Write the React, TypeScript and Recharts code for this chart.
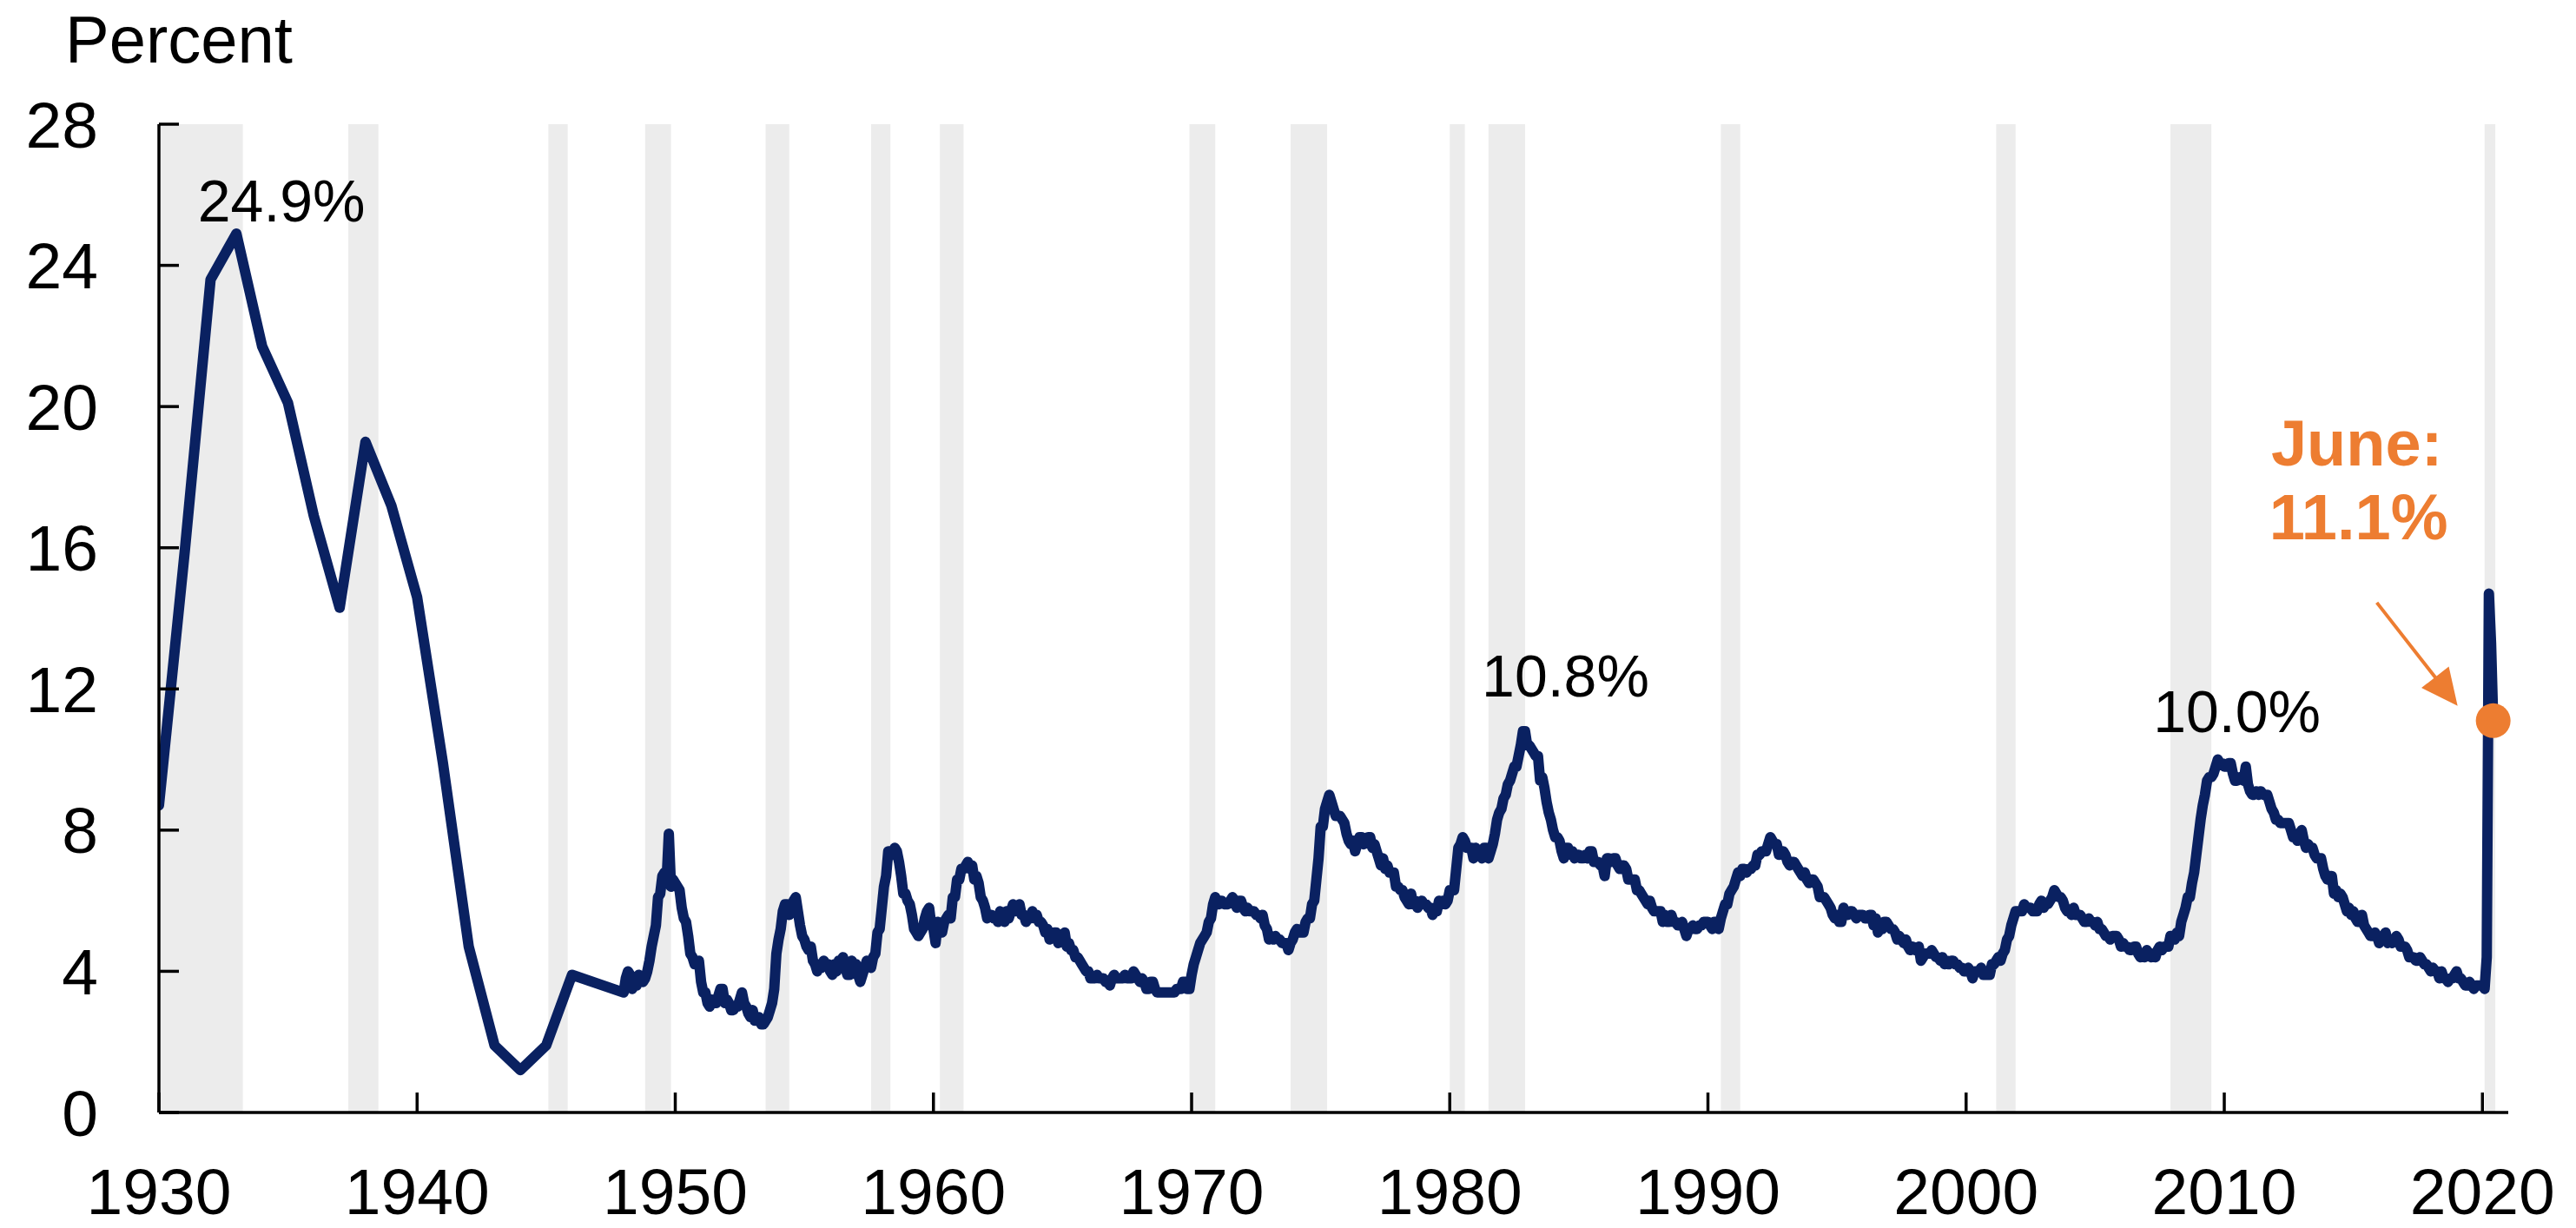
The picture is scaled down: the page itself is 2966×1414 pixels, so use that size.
import React from 'react';
import { ComposedChart, Line, XAxis, YAxis, ReferenceArea, ReferenceDot } from 'recharts';

// Annual unemployment rate, 1930-1946 (plotted at the start of each year)
const annualYears = [1930, 1931, 1932, 1933, 1934, 1935, 1936, 1937, 1938, 1939, 1940, 1941, 1942, 1943, 1944, 1945, 1946];
const annualRate = [8.7, 15.9, 23.6, 24.9, 21.7, 20.1, 16.9, 14.3, 19.0, 17.2, 14.6, 9.9, 4.7, 1.9, 1.2, 1.9, 3.9];

// Monthly unemployment rate, Jan 1948 - Jun 2020 (one row per year)
const monthlyStartYear = 1948;
const monthlyRate: number[][] = [
  [3.4, 3.8, 4.0, 3.9, 3.5, 3.6, 3.6, 3.9, 3.8, 3.7, 3.8, 4.0],
  [4.3, 4.7, 5.0, 5.3, 6.1, 6.2, 6.7, 6.8, 6.6, 7.9, 6.4, 6.6],
  [6.5, 6.4, 6.3, 5.8, 5.5, 5.4, 5.0, 4.5, 4.4, 4.2, 4.2, 4.3],
  [3.7, 3.4, 3.4, 3.1, 3.0, 3.2, 3.1, 3.1, 3.3, 3.5, 3.5, 3.1],
  [3.2, 3.1, 2.9, 2.9, 3.0, 3.0, 3.2, 3.4, 3.1, 3.0, 2.8, 2.7],
  [2.9, 2.6, 2.6, 2.7, 2.5, 2.5, 2.6, 2.7, 2.9, 3.1, 3.5, 4.5],
  [4.9, 5.2, 5.7, 5.9, 5.9, 5.6, 5.8, 6.0, 6.1, 5.7, 5.3, 5.0],
  [4.9, 4.7, 4.6, 4.7, 4.3, 4.2, 4.0, 4.2, 4.1, 4.3, 4.2, 4.2],
  [4.0, 3.9, 4.2, 4.0, 4.3, 4.3, 4.4, 4.1, 3.9, 3.9, 4.3, 4.2],
  [4.2, 3.9, 3.7, 3.9, 4.1, 4.3, 4.2, 4.1, 4.4, 4.5, 5.1, 5.2],
  [5.8, 6.4, 6.7, 7.4, 7.4, 7.3, 7.5, 7.4, 7.1, 6.7, 6.2, 6.2],
  [6.0, 5.9, 5.6, 5.2, 5.1, 5.0, 5.1, 5.2, 5.5, 5.7, 5.8, 5.3],
  [5.2, 4.8, 5.4, 5.2, 5.1, 5.4, 5.5, 5.6, 5.5, 6.1, 6.1, 6.6],
  [6.6, 6.9, 6.9, 7.0, 7.1, 6.9, 7.0, 6.6, 6.7, 6.5, 6.1, 6.0],
  [5.8, 5.5, 5.6, 5.6, 5.5, 5.5, 5.4, 5.7, 5.6, 5.4, 5.7, 5.5],
  [5.7, 5.9, 5.7, 5.7, 5.9, 5.6, 5.6, 5.4, 5.5, 5.5, 5.7, 5.5],
  [5.6, 5.4, 5.4, 5.3, 5.1, 5.2, 4.9, 5.0, 5.1, 5.1, 4.8, 5.0],
  [4.9, 5.1, 4.7, 4.8, 4.6, 4.6, 4.4, 4.4, 4.3, 4.2, 4.1, 4.0],
  [4.0, 3.8, 3.8, 3.8, 3.9, 3.8, 3.8, 3.8, 3.7, 3.7, 3.6, 3.8],
  [3.9, 3.8, 3.8, 3.8, 3.8, 3.9, 3.8, 3.8, 3.8, 4.0, 3.9, 3.8],
  [3.7, 3.8, 3.7, 3.5, 3.5, 3.7, 3.7, 3.5, 3.4, 3.4, 3.4, 3.4],
  [3.4, 3.4, 3.4, 3.4, 3.4, 3.5, 3.5, 3.5, 3.7, 3.7, 3.5, 3.5],
  [3.9, 4.2, 4.4, 4.6, 4.8, 4.9, 5.0, 5.1, 5.4, 5.5, 5.9, 6.1],
  [5.9, 5.9, 6.0, 5.9, 5.9, 5.9, 6.0, 6.1, 6.0, 5.8, 6.0, 6.0],
  [5.8, 5.7, 5.8, 5.7, 5.7, 5.7, 5.6, 5.6, 5.5, 5.6, 5.3, 5.2],
  [4.9, 5.0, 4.9, 5.0, 4.9, 4.9, 4.8, 4.8, 4.8, 4.6, 4.8, 4.9],
  [5.1, 5.2, 5.1, 5.1, 5.1, 5.4, 5.5, 5.5, 5.9, 6.0, 6.6, 7.2],
  [8.1, 8.1, 8.6, 8.8, 9.0, 8.8, 8.6, 8.4, 8.4, 8.4, 8.3, 8.2],
  [7.9, 7.7, 7.6, 7.7, 7.4, 7.6, 7.8, 7.8, 7.6, 7.7, 7.8, 7.8],
  [7.5, 7.6, 7.4, 7.2, 7.0, 7.2, 6.9, 7.0, 6.8, 6.8, 6.8, 6.4],
  [6.4, 6.3, 6.3, 6.1, 6.0, 5.9, 6.2, 5.9, 6.0, 5.8, 5.9, 6.0],
  [5.9, 5.9, 5.8, 5.8, 5.6, 5.7, 5.7, 6.0, 5.9, 6.0, 5.9, 6.0],
  [6.3, 6.3, 6.3, 6.9, 7.5, 7.6, 7.8, 7.7, 7.5, 7.5, 7.5, 7.2],
  [7.5, 7.4, 7.4, 7.2, 7.5, 7.5, 7.2, 7.4, 7.6, 7.9, 8.3, 8.5],
  [8.6, 8.9, 9.0, 9.3, 9.4, 9.6, 9.8, 9.8, 10.1, 10.4, 10.8, 10.8],
  [10.4, 10.4, 10.3, 10.2, 10.1, 10.1, 9.4, 9.5, 9.2, 8.8, 8.5, 8.3],
  [8.0, 7.8, 7.8, 7.7, 7.4, 7.2, 7.5, 7.5, 7.3, 7.4, 7.2, 7.3],
  [7.3, 7.2, 7.2, 7.3, 7.2, 7.4, 7.4, 7.1, 7.1, 7.1, 7.0, 7.0],
  [6.7, 7.2, 7.2, 7.1, 7.2, 7.2, 7.0, 6.9, 7.0, 7.0, 6.9, 6.6],
  [6.6, 6.6, 6.6, 6.3, 6.3, 6.2, 6.1, 6.0, 5.9, 6.0, 5.8, 5.7],
  [5.7, 5.7, 5.7, 5.4, 5.6, 5.4, 5.4, 5.6, 5.4, 5.4, 5.3, 5.3],
  [5.4, 5.2, 5.0, 5.2, 5.2, 5.3, 5.2, 5.2, 5.3, 5.3, 5.4, 5.4],
  [5.4, 5.3, 5.2, 5.4, 5.4, 5.2, 5.5, 5.7, 5.9, 5.9, 6.2, 6.3],
  [6.4, 6.6, 6.8, 6.7, 6.9, 6.9, 6.8, 6.9, 6.9, 7.0, 7.0, 7.3],
  [7.3, 7.4, 7.4, 7.4, 7.6, 7.8, 7.7, 7.6, 7.6, 7.3, 7.4, 7.4],
  [7.3, 7.1, 7.0, 7.1, 7.1, 7.0, 6.9, 6.8, 6.7, 6.8, 6.6, 6.5],
  [6.6, 6.6, 6.5, 6.4, 6.1, 6.1, 6.1, 6.0, 5.9, 5.8, 5.6, 5.5],
  [5.6, 5.4, 5.4, 5.8, 5.6, 5.6, 5.7, 5.7, 5.6, 5.5, 5.6, 5.6],
  [5.6, 5.5, 5.5, 5.6, 5.6, 5.3, 5.5, 5.1, 5.2, 5.2, 5.4, 5.4],
  [5.3, 5.2, 5.2, 5.1, 4.9, 5.0, 4.9, 4.8, 4.9, 4.7, 4.6, 4.7],
  [4.6, 4.6, 4.7, 4.3, 4.4, 4.5, 4.5, 4.5, 4.6, 4.5, 4.4, 4.4],
  [4.3, 4.4, 4.2, 4.3, 4.2, 4.3, 4.3, 4.2, 4.2, 4.1, 4.1, 4.0],
  [4.0, 4.1, 4.0, 3.8, 4.0, 4.0, 4.0, 4.1, 3.9, 3.9, 3.9, 3.9],
  [4.2, 4.2, 4.3, 4.4, 4.3, 4.5, 4.6, 4.9, 5.0, 5.3, 5.5, 5.7],
  [5.7, 5.7, 5.7, 5.9, 5.8, 5.8, 5.8, 5.7, 5.7, 5.7, 5.9, 6.0],
  [5.8, 5.9, 5.9, 6.0, 6.1, 6.3, 6.2, 6.1, 6.1, 6.0, 5.8, 5.7],
  [5.7, 5.6, 5.8, 5.6, 5.6, 5.6, 5.5, 5.4, 5.4, 5.5, 5.4, 5.4],
  [5.3, 5.4, 5.2, 5.2, 5.1, 5.0, 5.0, 4.9, 5.0, 5.0, 5.0, 4.9],
  [4.7, 4.8, 4.7, 4.7, 4.6, 4.6, 4.7, 4.7, 4.5, 4.4, 4.5, 4.4],
  [4.6, 4.5, 4.4, 4.5, 4.4, 4.6, 4.7, 4.6, 4.7, 4.7, 4.7, 5.0],
  [5.0, 4.9, 5.1, 5.0, 5.4, 5.6, 5.8, 6.1, 6.1, 6.5, 6.8, 7.3],
  [7.8, 8.3, 8.7, 9.0, 9.4, 9.5, 9.5, 9.6, 9.8, 10.0, 9.9, 9.9],
  [9.8, 9.8, 9.9, 9.9, 9.6, 9.4, 9.4, 9.5, 9.5, 9.4, 9.8, 9.3],
  [9.1, 9.0, 9.0, 9.1, 9.0, 9.1, 9.0, 9.0, 9.0, 8.8, 8.6, 8.5],
  [8.3, 8.3, 8.2, 8.2, 8.2, 8.2, 8.2, 8.0, 7.8, 7.8, 7.7, 7.9],
  [8.0, 7.7, 7.5, 7.6, 7.5, 7.5, 7.3, 7.2, 7.2, 7.2, 6.9, 6.7],
  [6.6, 6.7, 6.7, 6.2, 6.3, 6.1, 6.2, 6.1, 5.9, 5.7, 5.8, 5.6],
  [5.7, 5.5, 5.4, 5.4, 5.6, 5.3, 5.2, 5.1, 5.0, 5.0, 5.1, 5.0],
  [4.8, 4.9, 5.0, 5.1, 4.8, 4.9, 4.8, 4.9, 5.0, 4.9, 4.7, 4.7],
  [4.7, 4.6, 4.4, 4.4, 4.4, 4.3, 4.3, 4.4, 4.3, 4.2, 4.2, 4.1],
  [4.0, 4.1, 4.0, 4.0, 3.8, 4.0, 3.8, 3.8, 3.7, 3.8, 3.8, 3.9],
  [4.0, 3.8, 3.8, 3.7, 3.6, 3.6, 3.7, 3.6, 3.5, 3.6, 3.6, 3.6],
  [3.6, 3.5, 4.4, 14.7, 13.3, 11.1],
];

// Recessions: [start year, start month, end year, end month]
const recessions: number[][] = [
  [1929, 8, 1933, 3], [1937, 5, 1938, 6], [1945, 2, 1945, 10], [1948, 11, 1949, 10],
  [1953, 7, 1954, 5], [1957, 8, 1958, 4], [1960, 4, 1961, 2], [1969, 12, 1970, 11],
  [1973, 11, 1975, 3], [1980, 1, 1980, 7], [1981, 7, 1982, 11], [1990, 7, 1991, 3],
  [2001, 3, 2001, 11], [2007, 12, 2009, 6], [2020, 2, 2020, 6],
];

const xTicks = [1930, 1940, 1950, 1960, 1970, 1980, 1990, 2000, 2010, 2020];
const yTicks = [0, 4, 8, 12, 16, 20, 24, 28];

// Peak annotations: [year, month (1-12, 0 = annual), text]
const peakYears = [1933, 1982, 2009];
const peakMonths = [0, 11, 10];
const peakTexts = ['24.9%', '10.8%', '10.0%'];
const peakOffsets = [[52, -14], [49, -40], [22, -32]];

const latestTitle = 'June:';
const latestText = '11.1%';

const NAVY = '#0a2161';
const ORANGE = '#ED7D31';
const BAND = '#ececec';
const FONT = '"Liberation Sans", Arial, Helvetica, sans-serif';

const data: { t: number; rate: number }[] = [
  ...annualYears.map((y, i) => ({ t: y, rate: annualRate[i] })),
  ...monthlyRate.flatMap((row, i) => row.map((v, m) => ({ t: monthlyStartYear + i + m / 12, rate: v }))),
];

const findPoint = (year: number, month: number) => {
  const t = month === 0 ? year : year + (month - 1) / 12;
  return data.reduce((best, d) => (Math.abs(d.t - t) < Math.abs(best.t - t) ? d : best), data[0]);
};

const lastPoint = data[data.length - 1];

const LatestShape = (props: any) => {
  const { cx, cy } = props;
  if (cx == null || cy == null) return null;
  const sx = cx - 134, sy = cy - 136;
  const tx = cx - 41, ty = cy - 17;
  const dx = tx - sx, dy = ty - sy;
  const len = Math.sqrt(dx * dx + dy * dy);
  const ux = dx / len, uy = dy / len;
  const headLen = 42, headHalf = 20;
  const bx = tx - ux * headLen, by = ty - uy * headLen;
  const px = -uy, py = ux;
  return (
    <g>
      <line x1={sx} y1={sy} x2={bx + ux * 2} y2={by + uy * 2} stroke={ORANGE} strokeWidth={4} />
      <polygon
        points={`${tx},${ty} ${bx + px * headHalf},${by + py * headHalf} ${bx - px * headHalf},${by - py * headHalf}`}
        fill={ORANGE}
      />
      <circle cx={cx} cy={cy} r={20} fill={ORANGE} />
      <text x={cx - 157} y={cy - 294} textAnchor="middle" fontSize={74} fontWeight="bold" fill={ORANGE} fontFamily={FONT}>
        {latestTitle}
      </text>
      <text x={cx - 155} y={cy - 209} textAnchor="middle" fontSize={74} fontWeight="bold" fill={ORANGE} fontFamily={FONT}>
        {latestText}
      </text>
    </g>
  );
};

export default function App() {
  return (
    <div style={{ position: 'absolute', left: 0, top: 0, width: 2966, height: 1414, background: '#fff' }}>
      <svg style={{ position: 'absolute', left: 0, top: 0 }} width={500} height={110}>
        <text x={75} y={72} fontSize={76} fill="#000" fontFamily={FONT}>Percent</text>
      </svg>
      <ComposedChart
        width={2966}
        height={1414}
        data={data}
        margin={{ top: 143, right: 78, bottom: 0, left: 0 }}
      >
        {recessions.map((r, i) => (
          <ReferenceArea
            key={`rec-${i}`}
            x1={r[0] + (r[1] - 1) / 12}
            x2={r[2] + r[3] / 12}
            y1={0}
            y2={28}
            fill={BAND}
            fillOpacity={1}
            stroke="none"
            ifOverflow="hidden"
          />
        ))}
        <XAxis
          type="number"
          dataKey="t"
          domain={[1930, 2021]}
          ticks={xTicks}
          allowDataOverflow
          height={133}
          tickSize={-23}
          tickMargin={87}
          axisLine={{ stroke: '#000', strokeWidth: 3.5 }}
          tickLine={{ stroke: '#000', strokeWidth: 3.5 }}
          tick={{ fill: '#000', fontSize: 75, fontFamily: FONT }}
          interval={0}
        />
        <YAxis
          type="number"
          domain={[0, 28]}
          ticks={yTicks}
          width={183}
          tickSize={-23}
          tickMargin={93}
          axisLine={{ stroke: '#000', strokeWidth: 3.5 }}
          tickLine={{ stroke: '#000', strokeWidth: 3.5 }}
          tick={{ fill: '#000', fontSize: 75, fontFamily: FONT }}
          interval={0}
        />
        <Line
          type="linear"
          dataKey="rate"
          stroke={NAVY}
          strokeWidth={12}
          strokeLinejoin="round"
          strokeLinecap="round"
          dot={false}
          activeDot={false}
          isAnimationActive={false}
        />
        {peakYears.map((y, i) => {
          const p = findPoint(y, peakMonths[i]);
          const [ox, oy] = peakOffsets[i];
          return (
            <ReferenceDot
              key={`peak-${i}`}
              x={p.t}
              y={p.rate}
              r={0}
              shape={(props: any) =>
                props.cx == null ? null : (
                  <text x={props.cx + ox} y={props.cy + oy} textAnchor="middle" fontSize={68} fill="#000" fontFamily={FONT}>
                    {peakTexts[i]}
                  </text>
                )
              }
            />
          );
        })}
        <ReferenceDot x={lastPoint.t} y={lastPoint.rate} r={20} shape={LatestShape} />
      </ComposedChart>
    </div>
  );
}
